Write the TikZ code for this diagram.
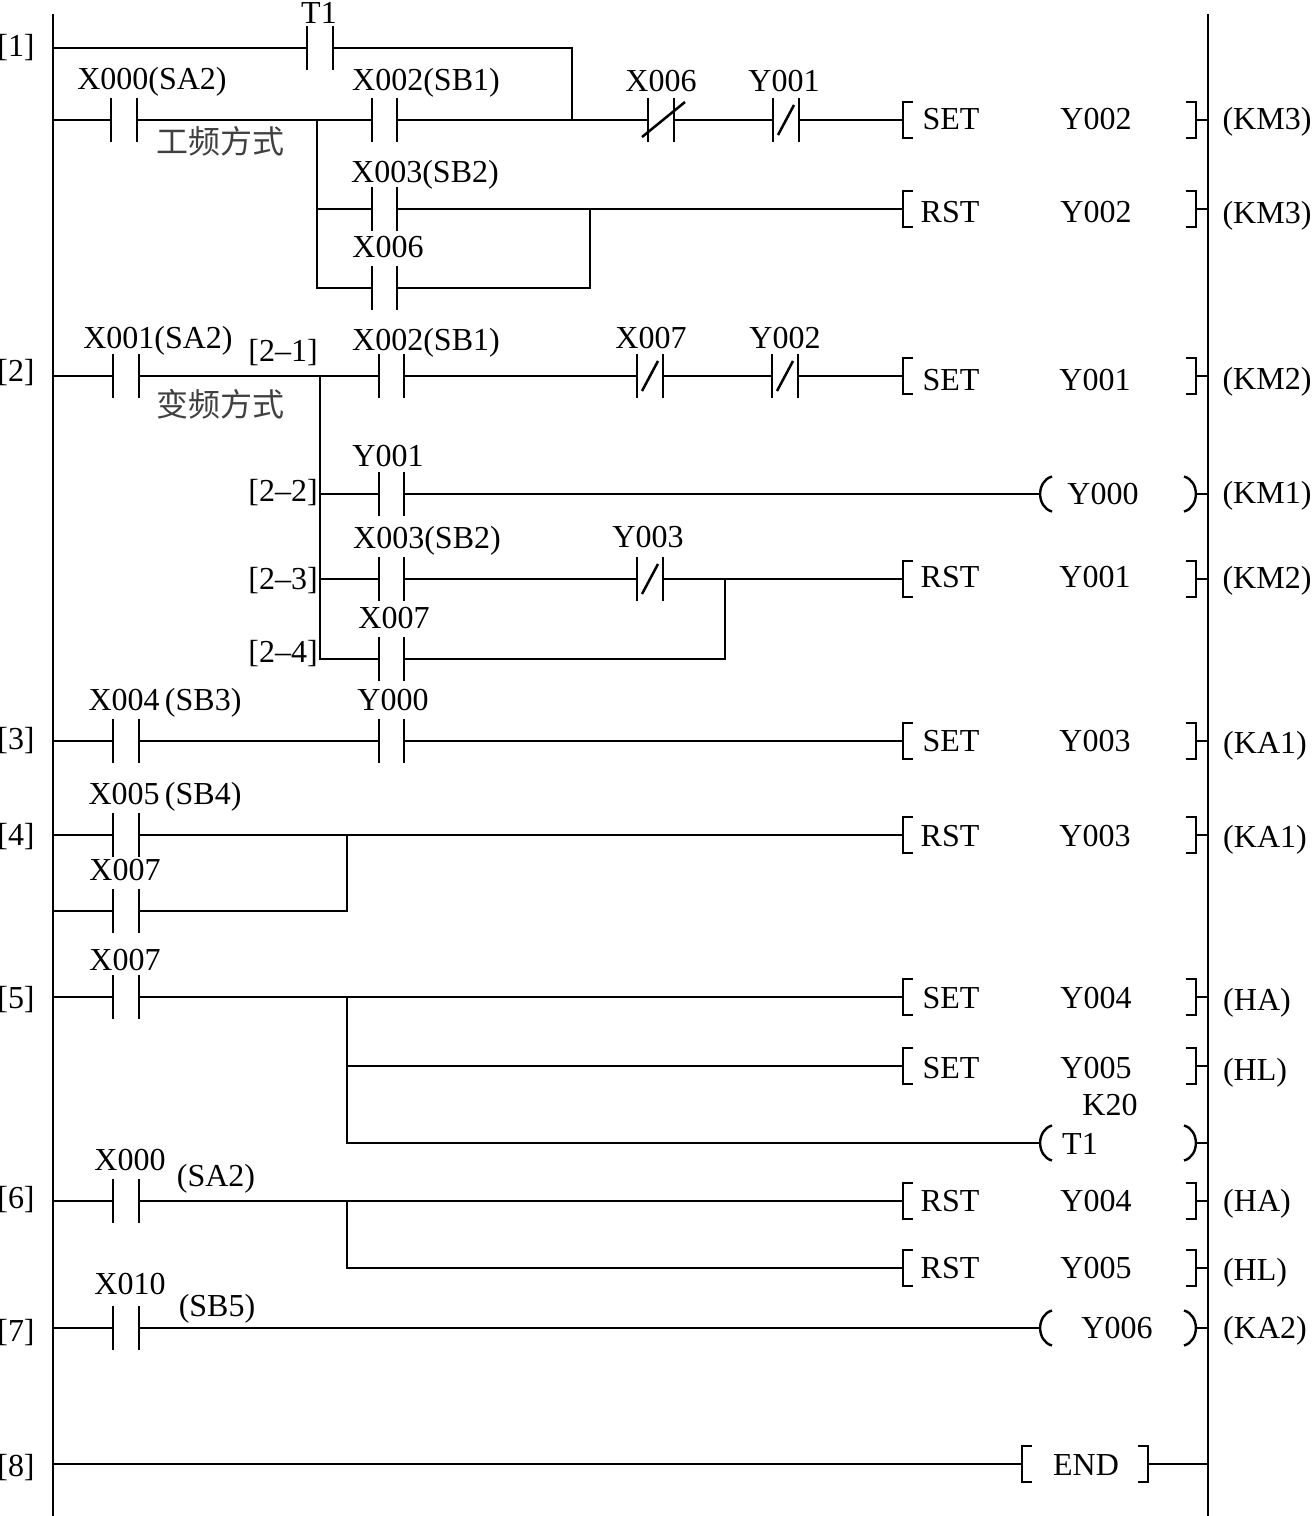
\documentclass[tikz,border=0pt]{standalone}
\usepackage{fontspec}
\setmainfont{Liberation Serif}
\newfontfamily\cjk{Noto Sans CJK SC}
\tikzset{
  every node/.style={font=\fontsize{16}{16}\selectfont,inner sep=0pt,outer sep=0pt,text height=10.6pt,text depth=0pt},
  every edge/.append style={line width=1pt},
  contactno/.style={rectangle,minimum width=12.8pt,minimum height=21.8pt,
    append after command={(\tikzlastnode.north west) edge (\tikzlastnode.south west)
      (\tikzlastnode.north east) edge (\tikzlastnode.south east)}},
  contactnc/.style={contactno,
    append after command={([xshift=-4pt,yshift=-7.5pt]\tikzlastnode.center) edge[line width=1.25pt] ([xshift=4pt,yshift=7.5pt]\tikzlastnode.center)}},
  contactcut/.style={contactno,
    append after command={([xshift=-9.5pt,yshift=-8.5pt]\tikzlastnode.center) edge[line width=1.25pt] ([xshift=12pt,yshift=9pt]\tikzlastnode.center)}},
  lsq/.style={line width=1.2pt,to path={-- ++(-5pt,0) |- (\tikztotarget)}},
  rsq/.style={line width=1.2pt,to path={-- ++(5pt,0) |- (\tikztotarget)}},
  squarebox/.style={rectangle,minimum width=#1,minimum height=18pt,
    append after command={([xshift=5pt]\tikzlastnode.north west) edge[lsq] ([xshift=5pt]\tikzlastnode.south west)
      ([xshift=-5pt]\tikzlastnode.north east) edge[rsq] ([xshift=-5pt]\tikzlastnode.south east)}},
  roundbox/.style={rectangle,minimum width=78pt,minimum height=17.5pt,
    append after command={([xshift=6pt]\tikzlastnode.north west) edge[line width=1.2pt,bend right=75,looseness=1.2] ([xshift=6pt]\tikzlastnode.south west)
      ([xshift=-6pt]\tikzlastnode.north east) edge[line width=1.2pt,bend left=75,looseness=1.2] ([xshift=-6pt]\tikzlastnode.south east)}},
  wire/.style={line width=1.2pt},
  rail/.style={line width=1.2pt}
}
\begin{document}
\begin{tikzpicture}[x=0.5pt,y=-0.5pt]
  \useasboundingbox (0,0) rectangle (1312,1516);
  % rails
  \coordinate (lt) at (53,14);
  \coordinate (lb) at (53,1516);
  \coordinate (rt) at (1208,14);
  \coordinate (rb) at (1208,1516);
  \draw [rail] (lt) -- (lb);
  \draw [rail] (rt) -- (rb);
  \foreach \n/\y in {1/46,2/371,3/739,4/835,5/998,6/1198,7/1331,8/1466}
    \node (n\n) at (16,\y) {[\n]};

  % rung 1
  \coordinate (l1) at (53,48);
  \coordinate (l2) at (53,120);
  \coordinate (j1) at (317,120);
  \coordinate (j2) at (572,120);
  \coordinate (j3) at (572,48);
  \coordinate (j4) at (317,209);
  \coordinate (j5) at (317,288);
  \coordinate (j6) at (590,209);
  \coordinate (j7) at (590,288);
  \node [contactno] (t1) at (320,48) {};
  \node [contactno] (x0) at (124,120) {};
  \node [contactno] (x2) at (384.5,120) {};
  \node [contactcut] (x6) at (661,120) {};
  \node [contactnc] (y1) at (786,120) {};
  \node [contactno] (x3) at (384.5,209) {};
  \node [contactno] (x6b) at (384.5,288) {};
  \node [squarebox=146.5pt] (c1) at (1049.5,120) {};
  \node [squarebox=146.5pt] (c2) at (1049.5,209) {};
  \draw [wire] (l1) -- (t1.west);
  \draw [wire] (t1.east) -- (j3) -- (j2);
  \draw [wire] (l2) -- (x0.west);
  \draw [wire] (x0.east) -- (j1) -- (x2.west);
  \draw [wire] (x2.east) -- (j2) -- (x6.west);
  \draw [wire] (x6.east) -- (y1.west);
  \draw [wire] (y1.east) -- (c1.west);
  \draw [wire] (c1.east) -- (c1.east -| rt);
  \draw [wire] (j1) -- (j4) -- (j5) -- (x6b.west);
  \draw [wire] (j4) -- (x3.west);
  \draw [wire] (x3.east) -- (j6) -- (c2.west);
  \draw [wire] (c2.east) -- (c2.east -| rt);
  \draw [wire] (x6b.east) -- (j7) -- (j6);
  \node (t1t) at (319,13) {T1};
  \node (x0t) at (152,79) {X000(SA2)};
  \node (x2t) at (426,80) {X002(SB1)};
  \node (m1) at (220,143) {\cjk\color{black!75}工频方式};
  \node (x6t) at (661,81) {X006};
  \node (y1t) at (784,81) {Y001};
  \node (s1) at (951,119) {SET};
  \node (o1) at (1096,119) {Y002};
  \node (k1) at (1267,119) {(KM3)};
  \node (x3t) at (425,172) {X003(SB2)};
  \node (x6c) at (388,247) {X006};
  \node (s2) at (950,212) {RST};
  \node (o2) at (1096,212) {Y002};
  \node (k2) at (1267,213) {(KM3)};

  % rung 2
  \coordinate (l3) at (53,376);
  \coordinate (j8) at (320,376);
  \coordinate (j9) at (320,494);
  \coordinate (j10) at (320,579);
  \coordinate (j11) at (320,659);
  \coordinate (j12) at (725,579);
  \coordinate (j13) at (725,659);
  \node [contactno] (x1) at (126,376) {};
  \node [contactno] (x2b) at (391.5,376) {};
  \node [contactnc] (x7) at (650,376) {};
  \node [contactnc] (y2) at (785,376) {};
  \node [contactno] (y1b) at (391.5,494) {};
  \node [contactno] (x3b) at (391.5,579) {};
  \node [contactnc] (y3) at (650,579) {};
  \node [contactno] (x7b) at (391.5,659) {};
  \node [squarebox=146.5pt] (c3) at (1049.5,376) {};
  \node [roundbox] (c4) at (1118,494) {};
  \node [squarebox=146.5pt] (c5) at (1049.5,579) {};
  \draw [wire] (l3) -- (x1.west);
  \draw [wire] (x1.east) -- (x2b.west);
  \draw [wire] (x2b.east) -- (x7.west);
  \draw [wire] (x7.east) -- (y2.west);
  \draw [wire] (y2.east) -- (c3.west);
  \draw [wire] (c3.east) -- (c3.east -| rt);
  \draw [wire] (j8) -- (j11) -- (x7b.west);
  \draw [wire] (j9) -- (y1b.west);
  \draw [wire] (y1b.east) -- (c4.west);
  \draw [wire] (c4.east) -- (c4.east -| rt);
  \draw [wire] (j10) -- (x3b.west);
  \draw [wire] (x3b.east) -- (y3.west);
  \draw [wire] (y3.east) -- (c5.west);
  \draw [wire] (c5.east) -- (c5.east -| rt);
  \draw [wire] (x7b.east) -- (j13) -- (j12);
  \node (x1t) at (158,338) {X001(SA2)};
  \node (m2) at (220,406) {\cjk\color{black!75}变频方式};
  \node (b1) at (283,351) {[2–1]};
  \node (x2u) at (426,340) {X002(SB1)};
  \node (x7t) at (651,338) {X007};
  \node (y2t) at (785,338) {Y002};
  \node (s3) at (951,380) {SET};
  \node (o3) at (1095,380) {Y001};
  \node (k3) at (1267,379) {(KM2)};
  \node (b2) at (283,491) {[2–2]};
  \node (y1u) at (388,456) {Y001};
  \node (o4) at (1103,494) {Y000};
  \node (k4) at (1267,493) {(KM1)};
  \node (b3) at (283,579) {[2–3]};
  \node (x3u) at (427,538) {X003(SB2)};
  \node (y3t) at (648,537) {Y003};
  \node (s5) at (950,577) {RST};
  \node (o5) at (1095,577) {Y001};
  \node (k5) at (1267,578) {(KM2)};
  \node (b4) at (283,652) {[2–4]};
  \node (x7u) at (394,618) {X007};

  % rung 3 and 4
  \coordinate (l4) at (53,741);
  \coordinate (l5) at (53,835);
  \coordinate (l6) at (53,911);
  \coordinate (j14) at (347,835);
  \coordinate (j15) at (347,911);
  \node [contactno] (x4) at (126,741) {};
  \node [contactno] (y0) at (391.5,741) {};
  \node [contactno] (x5) at (126,835) {};
  \node [contactno] (x7c) at (126,911) {};
  \node [squarebox=146.5pt] (c6) at (1049.5,741) {};
  \node [squarebox=146.5pt] (c7) at (1049.5,835) {};
  \draw [wire] (l4) -- (x4.west);
  \draw [wire] (x4.east) -- (y0.west);
  \draw [wire] (y0.east) -- (c6.west);
  \draw [wire] (c6.east) -- (c6.east -| rt);
  \draw [wire] (l5) -- (x5.west);
  \draw [wire] (x5.east) -- (c7.west);
  \draw [wire] (c7.east) -- (c7.east -| rt);
  \draw [wire] (l6) -- (x7c.west);
  \draw [wire] (x7c.east) -- (j15) -- (j14);
  \node (x4t) at (165,700) {X004\,(SB3)};
  \node (y0t) at (393,700) {Y000};
  \node (s6) at (951,741) {SET};
  \node (o6) at (1095,741) {Y003};
  \node (k6) at (1265,743) {(KA1)};
  \node (x5t) at (165,794) {X005\,(SB4)};
  \node (x7v) at (125,870) {X007};
  \node (s7) at (950,836) {RST};
  \node (o7) at (1095,836) {Y003};
  \node (k7) at (1265,837) {(KA1)};

  % rung 5 and 6
  \coordinate (l7) at (53,997);
  \coordinate (l8) at (53,1201);
  \coordinate (j16) at (347,997);
  \coordinate (j17) at (347,1066);
  \coordinate (j18) at (347,1143);
  \coordinate (j19) at (347,1201);
  \coordinate (j20) at (347,1268);
  \node [contactno] (x7d) at (126,997) {};
  \node [contactno] (x0b) at (126,1201) {};
  \node [squarebox=146.5pt] (c8) at (1049.5,997) {};
  \node [squarebox=146.5pt] (c9) at (1049.5,1066) {};
  \node [roundbox] (c10) at (1118,1143) {};
  \node [squarebox=146.5pt] (c11) at (1049.5,1201) {};
  \node [squarebox=146.5pt] (c12) at (1049.5,1268) {};
  \draw [wire] (l7) -- (x7d.west);
  \draw [wire] (x7d.east) -- (c8.west);
  \draw [wire] (j16) -- (j18) -- (c10.west);
  \draw [wire] (j17) -- (c9.west);
  \draw [wire] (l8) -- (x0b.west);
  \draw [wire] (x0b.east) -- (c11.west);
  \draw [wire] (j19) -- (j20) -- (c12.west);
  \foreach \c in {c8,c9,c10,c11,c12}
    \draw [wire] (\c.east) -- (\c.east -| rt);
  \node (x7w) at (125,960) {X007};
  \node (s8) at (951,998) {SET};
  \node (o8) at (1096,998) {Y004};
  \node (k8) at (1257,1000) {(HA)};
  \node (s9) at (951,1068) {SET};
  \node (o9) at (1096,1068) {Y005};
  \node (k9) at (1255,1070) {(HL)};
  \node (k20) at (1110,1105) {K20};
  \node (o10) at (1080,1144) {T1};
  \node (x0t2) at (130,1160) {X000};
  \node (sa2) at (216,1176) {(SA2)};
  \node (s11) at (950,1201) {RST};
  \node (o11) at (1096,1201) {Y004};
  \node (k11) at (1257,1201) {(HA)};
  \node (s12) at (950,1268) {RST};
  \node (o12) at (1096,1268) {Y005};
  \node (k12) at (1255,1270) {(HL)};

  % rung 7 and 8
  \coordinate (l9) at (53,1328);
  \coordinate (l10) at (53,1464);
  \node [contactno] (x10) at (126,1328) {};
  \node [roundbox] (c13) at (1118,1328) {};
  \node [squarebox=63pt] (c14) at (1085,1464) {};
  \draw [wire] (l9) -- (x10.west);
  \draw [wire] (x10.east) -- (c13.west);
  \draw [wire] (c13.east) -- (c13.east -| rt);
  \draw [wire] (l10) -- (c14.west);
  \draw [wire] (c14.east) -- (c14.east -| rt);
  \node (x10t) at (130,1284) {X010};
  \node (sb5) at (217,1306) {(SB5)};
  \node (o13) at (1117,1328) {Y006};
  \node (k13) at (1265,1328) {(KA2)};
  \node (o14) at (1086,1465) {END};
\end{tikzpicture}
\end{document}
